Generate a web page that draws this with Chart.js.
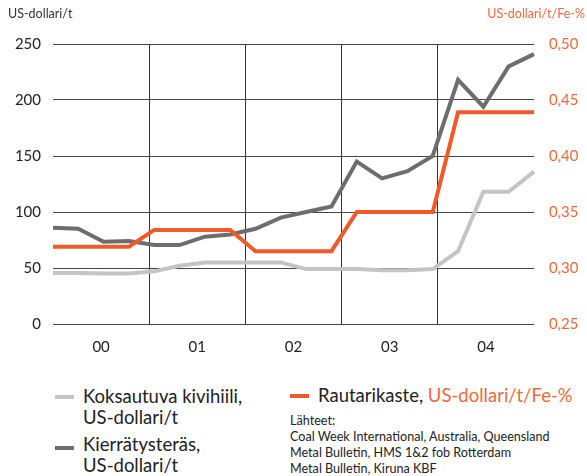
<!DOCTYPE html>
<html>
<head>
<meta charset="utf-8">
<script src="https://cdn.jsdelivr.net/npm/chart.js@4.4.1/dist/chart.umd.min.js"></script>
<style>
  body { margin: 0; background: #fff; font-family: Lato, "Open Sans", sans-serif; }
  #wrap { position: relative; width: 587px; height: 476px; overflow: hidden; }
  #chartBox { position: absolute; left: 0; top: 0; width: 587px; height: 370px; }
  .axisTitle { position: absolute; top: 6px; font-size: 12.5px; }
  .leg { position: absolute; font-size: 18.5px; line-height: 21px; color: #222; white-space: nowrap; }
  .sw { position: absolute; width: 19px; height: 4px; }
  .src { position: absolute; left: 290px; top: 413px; font-size: 12.6px; line-height: 16px; color: #222; white-space: nowrap; }
</style>
</head>
<body>
<div id="wrap">
  <div id="chartBox"><canvas id="lineChartJs"></canvas></div>
  <div class="axisTitle" style="left:8px;color:#333;">US-dollari/t</div>
  <div class="axisTitle" style="right:2px;color:#f0693a;">US-dollari/t/Fe-%</div>

  <div class="sw" style="left:55px;top:395px;background:#c4c4c4;"></div>
  <div class="leg" style="left:83px;top:386px;">Koksautuva kivihiili,<br>US-dollari/t</div>
  <div class="sw" style="left:55px;top:446px;background:#6d6d70;"></div>
  <div class="leg" style="left:83px;top:434px;">Kierrätysteräs,<br>US-dollari/t</div>
  <div class="sw" style="left:290px;top:394px;background:#f05a28;"></div>
  <div class="leg" style="left:318px;top:385px;">Rautarikaste, <span style="color:#f0693a;">US-dollari/t/Fe-%</span></div>
  <div class="src">Lähteet:<br>Coal Week International, Australia, Queensland<br>Metal Bulletin, HMS 1&amp;2 fob Rotterdam<br>Metal Bulletin, Kiruna KBF</div>
</div>
<script>
var quarters = ["00/1", "00/2", "00/3", "00/4", "01/1", "01/2", "01/3", "01/4", "02/1", "02/2",
                "02/3", "02/4", "03/1", "03/2", "03/3", "03/4", "04/1", "04/2", "04/3", "04/4"];
var yearLabels = ["00", "01", "02", "03", "04"];
var kivihiili = [45.5, 45.5, 45, 45, 47, 52, 55, 55, 55, 55, 49, 49, 49, 48, 48, 49, 65, 118, 118, 136];
var terasRomu = [86, 85, 73.5, 74, 70.5, 70.5, 78, 80, 85, 95, 100, 105, 145, 130, 136.5, 150, 218, 194, 230, 241];
var rautarikaste = [0.319, 0.319, 0.319, 0.319, 0.334, 0.334, 0.334, 0.334, 0.315, 0.315,
                    0.315, 0.315, 0.35, 0.35, 0.35, 0.35, 0.439, 0.439, 0.439, 0.439];
var leftTicks = [0, 50, 100, 150, 200, 250];
var rightTicks = [0.25, 0.30, 0.35, 0.40, 0.45, 0.50];

var tickFont = { family: "Lato, 'Open Sans', sans-serif", size: 15 };

var lineData = {
  labels: quarters,
  datasets: [
    {
      label: "Rautarikaste",
      data: rautarikaste,
      yAxisID: "y2",
      borderColor: "#f05a28",
      borderWidth: 4
    }, {
      label: "Kierrätysteräs",
      data: terasRomu,
      yAxisID: "y",
      borderColor: "#6d6d70",
      borderWidth: 4
    }, {
      label: "Koksautuva kivihiili",
      data: kivihiili,
      yAxisID: "y",
      borderColor: "#c4c4c4",
      borderWidth: 4
    }
  ]
};

var lineOptions = {
  responsive: true,
  maintainAspectRatio: false,
  animation: false,
  layout: { padding: { top: 44, left: 0, right: 0, bottom: 0 } },
  elements: {
    point: { radius: 0 },
    line: { tension: 0, borderJoinStyle: "miter", fill: false }
  },
  plugins: { legend: { display: false }, tooltip: { enabled: false } },
  scales: {
    x: { type: "category", display: false, offset: false },
    xYear: {
      type: "linear", position: "bottom", min: 0, max: 5,
      afterBuildTicks: function(s) {
        var t = [];
        for (var i = 0; i <= 10; i++) t.push({ value: i / 2 });
        s.ticks = t;
      },
      afterFit: function(s) { s.height = 46; },
      ticks: {
        font: tickFont, color: "#222", padding: 14, maxRotation: 0, autoSkip: false,
        callback: function(v) {
          return (v % 1 === 0.5) ? yearLabels[Math.floor(v)] : "";
        }
      },
      grid: {
        drawTicks: false,
        color: function(c) {
          var v = c.tick ? c.tick.value : 0;
          return (v % 1 === 0 && v > 0 && v < 5) ? "#333" : "rgba(0,0,0,0)";
        }
      },
      border: { display: false }
    },
    y: {
      position: "left", min: 0, max: 250,
      afterBuildTicks: function(s) { s.ticks = leftTicks.map(function(v) { return { value: v }; }); },
      afterFit: function(s) { s.width = 53; },
      ticks: { font: tickFont, color: "#222", padding: 12 },
      grid: { color: "#444", drawTicks: false },
      border: { display: false }
    },
    y2: {
      position: "right", min: 0.25, max: 0.5,
      afterBuildTicks: function(s) { s.ticks = rightTicks.map(function(v) { return { value: v }; }); },
      afterFit: function(s) { s.width = 53; },
      ticks: {
        font: tickFont, color: "#f0693a", padding: 15,
        callback: function(v) { return v.toFixed(2).replace(".", ","); }
      },
      grid: { drawOnChartArea: false, drawTicks: false },
      border: { display: false }
    }
  }
};

var ctx = document.getElementById("lineChartJs").getContext("2d");
new Chart(ctx, { type: "line", data: lineData, options: lineOptions });
</script>
</body>
</html>
